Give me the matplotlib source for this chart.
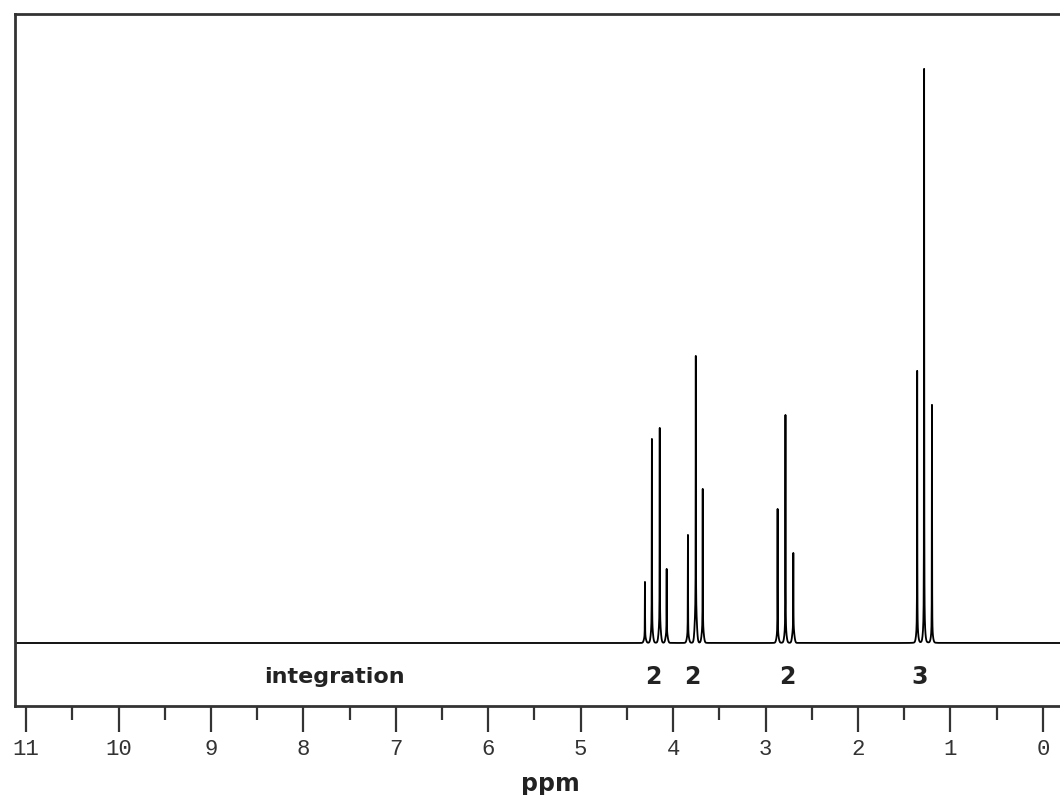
import numpy as np
import matplotlib
matplotlib.use('Agg')
import matplotlib.pyplot as plt
from matplotlib.ticker import MultipleLocator

# peak positions (ppm), spike heights and base bump heights
shifts = [4.305, 4.23, 4.145, 4.07,
          3.84, 3.755, 3.68,
          2.87, 2.785, 2.70,
          1.36, 1.285, 1.20]
heights = [61, 204, 215, 74,
           108, 287, 154,
           134, 228, 90,
           272, 574, 238]
bumps = [5, 13, 18, 9,
         7, 31, 13,
         8, 11, 13,
         10, 14, 7]

# integration labels
integ_pos = [4.21, 3.79, 2.76, 1.33]
integ_txt = ['2', '2', '2', '3']

xtick_vals = list(range(0, 12))

# line shape
width = 0.0012
sig = 0.011
ppm = np.arange(-0.3, 11.3, 0.0005)
spec = np.zeros_like(ppm)
for s, h, b in zip(shifts, heights, bumps):
    spec += (h - b) / (1 + ((ppm - s) / width) ** 2)
    spec += b * np.exp(-0.5 * ((ppm - s) / sig) ** 2)

fig = plt.figure(figsize=(10.6, 7.95), dpi=100)
ax = fig.add_axes([15 / 1060, 1 - 706 / 795, 1 - 15 / 1060, (706 - 14) / 795])

ax.plot(ppm, spec, color='black', lw=1.3)
ax.set_xlim(11.12, -0.185)
ax.set_ylim(-63, 629)

for p in ['top', 'left', 'bottom']:
    ax.spines[p].set_linewidth(2)
    ax.spines[p].set_color('#333333')
ax.spines['right'].set_visible(False)

ax.set_yticks([])
ax.xaxis.set_major_locator(MultipleLocator(1))
ax.xaxis.set_minor_locator(MultipleLocator(0.5))
ax.set_xticks(xtick_vals)
ax.set_xticklabels([str(v) for v in xtick_vals], family='Liberation Mono',
                   fontsize=16, color='#333333')
ax.tick_params(axis='x', which='major', direction='out', length=19, width=1.6,
               color='#333333', pad=5)
ax.tick_params(axis='x', which='minor', direction='out', length=10, width=1.6,
               color='#333333')

ax.text(7.66, -34, 'integration', ha='center', va='center', fontsize=16,
        fontweight='bold', family='DejaVu Sans', color='#222222')
for x, t in zip(integ_pos, integ_txt):
    ax.text(x, -34, t, ha='center', va='center', fontsize=17,
            fontweight='bold', family='DejaVu Sans', color='#222222')

ax.set_xlabel('ppm', fontsize=17, fontweight='bold', family='DejaVu Sans',
              color='#222222')
ax.xaxis.set_label_coords((550 - 15) / (1060 - 15), -0.095)

fig.savefig('out.png', dpi=100)
